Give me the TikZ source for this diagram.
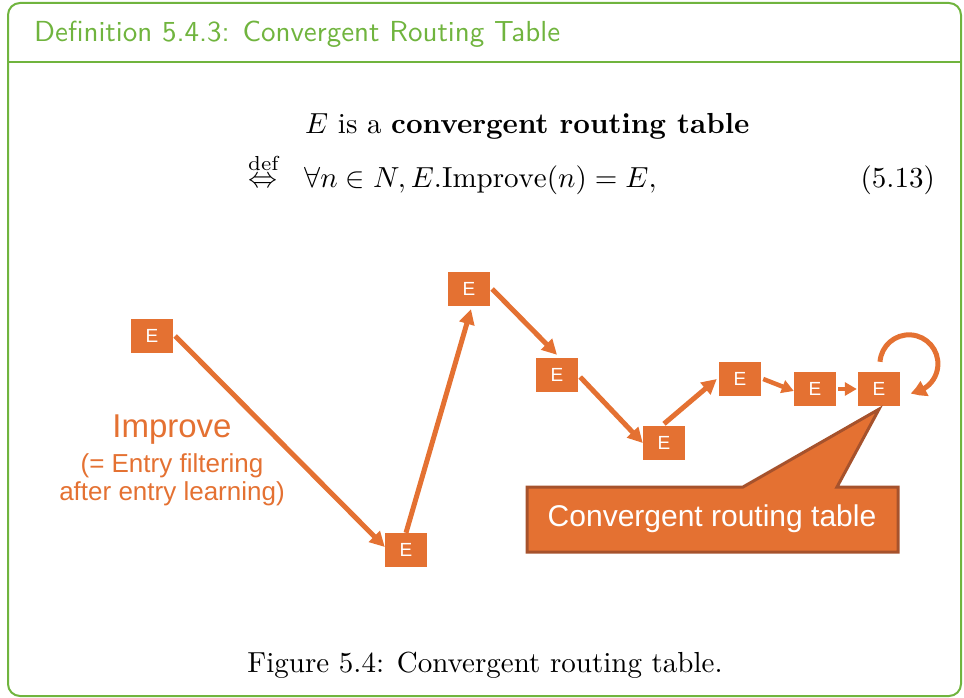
\documentclass[tikz,border=0pt]{standalone}
\usepackage{amsmath}
\usepackage{graphicx}
\usepackage{fontspec}
\newfontfamily\arialfont{Liberation Sans}
\usetikzlibrary{arrows.meta,bending}

\definecolor{frameGreen}{RGB}{112,180,62}
\definecolor{ppOrange}{RGB}{228,113,50}
\definecolor{calloutEdge}{RGB}{166,82,44}

% document text is set at 10pt and magnified to the frame's size
\newcommand\magtext[1]{\scalebox{2.9}{#1}}

\begin{document}
\begin{tikzpicture}[x=1pt,y=-1pt,
  ebox/.style={fill=ppOrange, minimum width=42pt, minimum height=34pt,
    inner sep=0pt, text=white, font=\arialfont\fontsize{19}{19}\selectfont},
  flow/.style={draw=ppOrange, line width=5pt,
    -{Triangle[length=15pt,width=15pt]}},
  shortflow/.style={draw=ppOrange, line width=4.5pt,
    -{Triangle[length=12pt,width=13pt]}},
  loopflow/.style={draw=ppOrange, line width=5pt,
    -{Triangle[length=15pt,width=16pt,bend]}},
  callout/.style={fill=ppOrange, draw=calloutEdge, line width=3pt,
    line join=miter},
  plain/.style={inner sep=0pt, anchor=base west},
  orangetext/.style={inner sep=0pt, anchor=base, text=ppOrange},
]
\useasboundingbox (0,0) rectangle (964,698);

% frame of the definition box
\draw[frameGreen, line width=2pt, rounded corners=12pt]
  (8,3) rectangle (961,696);
\draw[frameGreen, line width=2pt] (8,62) -- (961,62);
\node[plain, text=frameGreen] (title) at (34,42)
  {\magtext{\sffamily Definition 5.4.3: Convergent Routing Table}};

% the defining equation
\node[plain] (eqa) at (305,134)
  {\magtext{$E$ is a \textbf{convergent routing table}}};
\node[plain] (eqdef) at (248,187)
  {\magtext{$\overset{\mathrm{def}}{\Leftrightarrow}$}};
\node[plain] (eqb) at (304,187)
  {\magtext{$\forall n \in N, E.\mathrm{Improve}(n) = E,$}};
\node[inner sep=0pt, anchor=base east] (eqno) at (935,187)
  {\magtext{(5.13)}};

% sequence of routing tables
\node[ebox] (e1) at (152,336) {E};
\node[ebox] (e2) at (406,550) {E};
\node[ebox] (e3) at (469,289) {E};
\node[ebox] (e4) at (557,375) {E};
\node[ebox] (e5) at (664,443) {E};
\node[ebox] (e6) at (740,379) {E};
\node[ebox] (e7) at (815,389) {E};
\node[ebox] (e8) at (879,389) {E};

\draw[flow] ([xshift=2pt]e1.east) -- ([yshift=3pt]e2.west);
\draw[flow] (e2.north) -- ([xshift=2pt,yshift=-3pt]e3.south);
\draw[flow] ([xshift=2pt]e3.east) -- ([yshift=3pt]e4.north);
\draw[flow] ([xshift=2pt,yshift=-2pt]e4.east) -- (e5.west);
\draw[flow] ([yshift=2pt]e5.north) -- ([xshift=-2pt]e6.west);
\draw[shortflow] ([xshift=2pt]e6.east) -- ([yshift=-2pt]e7.west);
\draw[shortflow] ([xshift=2pt]e7.east) -- ([xshift=-1pt]e8.west);
\draw[loopflow] ([xshift=1pt,yshift=10pt]e8.north)
  arc[start angle=184, end angle=447, radius=29];

% callout pointing at the final table
\coordinate (tip) at ([yshift=-3pt]e8.south);
\draw[callout] (527,487) -- (743,487) -- (tip) -- (837,487) -- (898,487)
  -- (898,552) -- (527,552) -- cycle;
\node[text=white, font=\arialfont\fontsize{30}{30}\selectfont, inner sep=0pt]
  (calltext) at (712,519) {Convergent routing table};

% label of the improvement step
\node[orangetext, font=\arialfont\fontsize{33}{33}\selectfont]
  (improve) at (172,437) {Improve};
\node[orangetext, font=\arialfont\fontsize{26}{26}\selectfont]
  (improveA) at (172,472) {(= Entry filtering};
\node[orangetext, font=\arialfont\fontsize{26}{26}\selectfont]
  (improveB) at (172,500) {after entry learning)};

% caption
\node[inner sep=0pt, anchor=base] (caption) at (485,672)
  {\magtext{Figure 5.4: Convergent routing table.}};
\end{tikzpicture}
\end{document}
